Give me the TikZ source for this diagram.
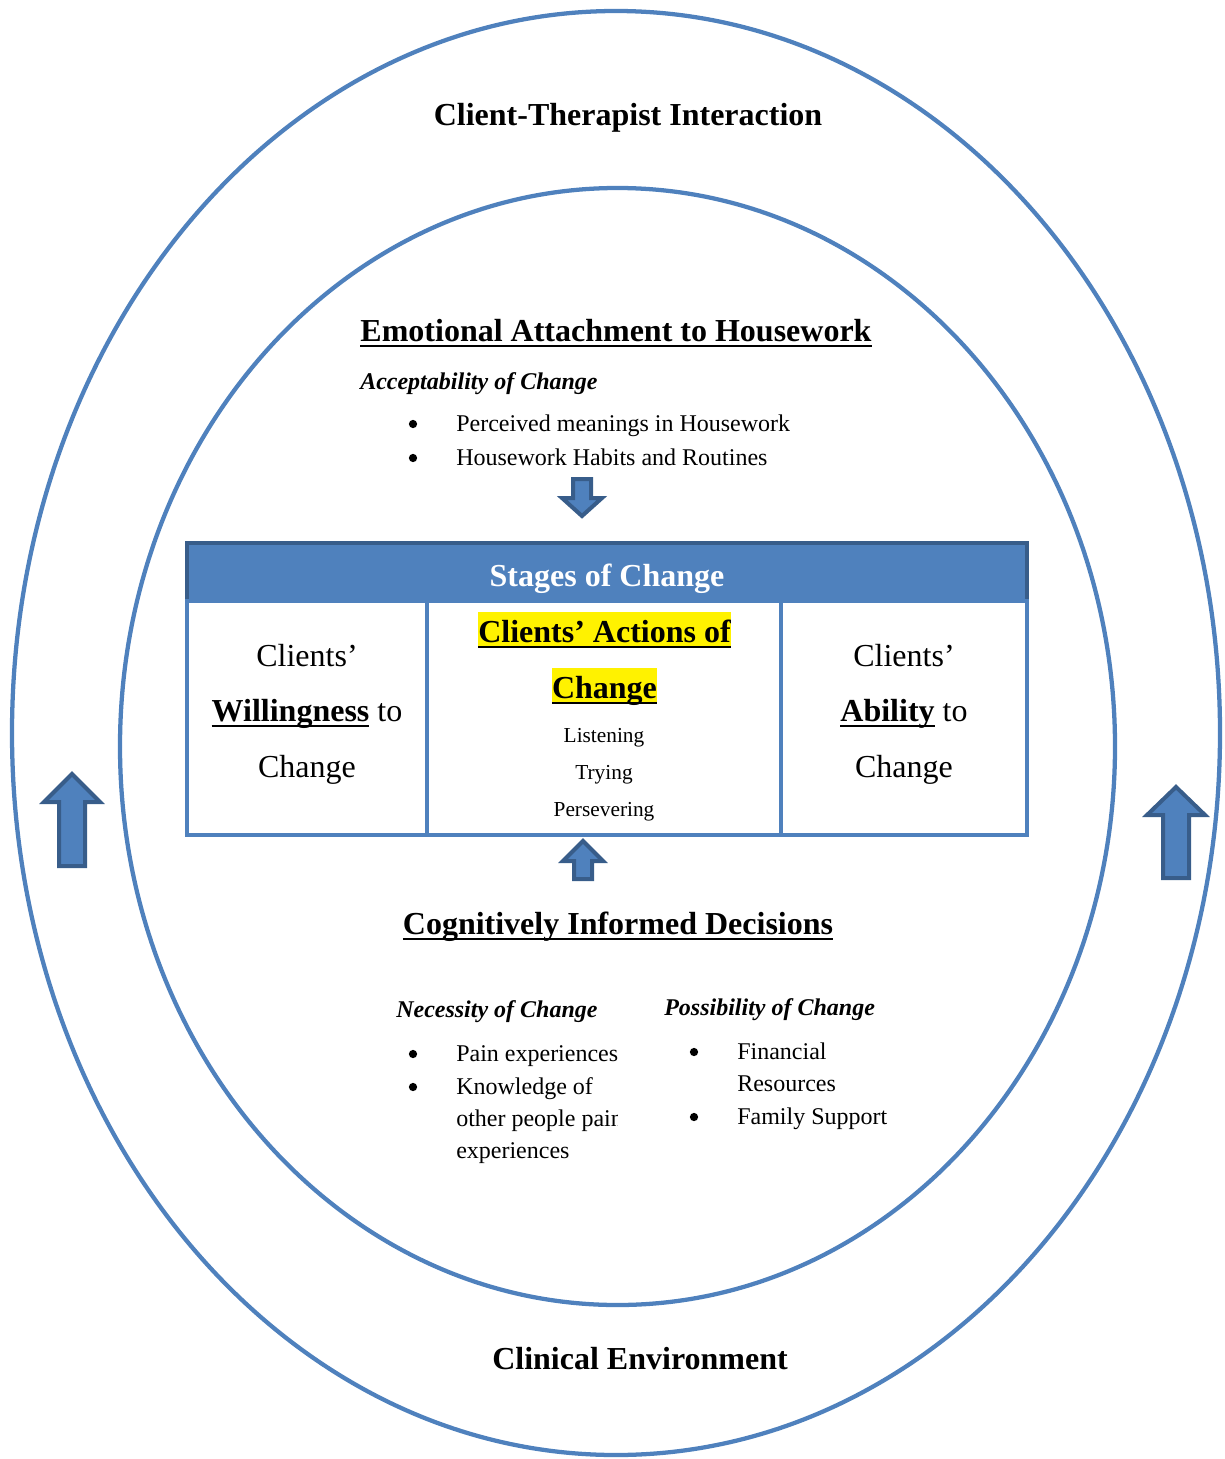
\documentclass[tikz,border=0pt]{standalone}
\usepackage{fontspec}
\setmainfont{Liberation Serif}
\usepackage{tikz}
\definecolor{officeblue}{RGB}{79,129,189}
\definecolor{officedark}{RGB}{56,93,138}
\newsavebox{\ulbox}
\newcommand{\ulword}[1]{\sbox{\ulbox}{#1}\rlap{\rule[-0.2em]{\wd\ulbox}{0.08em}}\usebox{\ulbox}}
% x, tip y, length, half shaft, half head, head length
\newcommand{\fatarrow}[6]{%
  \draw[blockarrow] (#1,#2) -- ++(#5,#6) -- ++({#4-#5},0) -- ++(0,{#3-#6})
    -- ++({-2*#4},0) -- ++(0,{#6-#3}) -- ++({#4-#5},0) -- cycle;}
\tikzset{
  ring/.style={draw=officeblue,line width=3.2pt},
  heading/.style={font=\fontsize{24}{28}\selectfont\bfseries,inner sep=0pt,anchor=base},
  subhead/.style={font=\fontsize{18}{22}\selectfont\bfseries\itshape,inner sep=0pt,anchor=base west},
  item/.style={font=\fontsize{18}{22}\selectfont,inner sep=0pt,anchor=base west},
  dot/.style={circle,fill=black,inner sep=0pt,minimum size=6.2pt},
  cell/.style={font=\fontsize{24}{28}\selectfont,inner sep=0pt,anchor=base},
  stage/.style={font=\fontsize{16}{20}\selectfont,inner sep=0pt,anchor=base},
  hilite/.style={fill=yellow,inner sep=0pt,text height=22.5pt,text depth=4.5pt,
                 font=\fontsize{24}{28}\selectfont\bfseries,anchor=base},
  headbar/.style={fill=officeblue,draw=officedark,line width=3.5pt},
  tableline/.style={draw=officeblue,line width=2.6pt},
  blockarrow/.style={fill=officeblue,draw=officedark,line width=3pt,line join=miter}
}

\begin{document}
\begin{tikzpicture}[x=0.75pt,y=-0.75pt]
  \useasboundingbox (0,0) rectangle (1224,1459);
  % rings
  \draw[ring] (616,733) ellipse [x radius=604, y radius=722];
  \draw[ring] (617.5,746.5) ellipse [x radius=497.5, y radius=558.5];
  \node[heading] (cti) at (628,126) {Client-Therapist Interaction};
  \node[heading] (ce)  at (640,1369) {Clinical Environment};
  % emotional attachment
  \node[heading] (emo) at (616,341) {\ulword{Emotional Attachment to Housework}};
  \node[subhead] (acc) at (360,389) {Acceptability of Change};
  \node[dot]  (b1) at (413,424) {};
  \node[dot]  (b2) at (413,458) {};
  \node[item] (pm) at (456,431) {Perceived meanings in Housework};
  \node[item] (hh) at (456,465) {Housework Habits and Routines};
  \fatarrow{582}{516}{-37}{9}{20}{-18}
  % stages of change table
  \draw[headbar] (187,543) rectangle (1027,601);
  \node[heading,text=white] (soc) at (607,586) {Stages of Change};
  \draw[tableline] (187,601) rectangle (1027,835);
  \draw[tableline] (427,601) -- (427,835);
  \draw[tableline] (781,601) -- (781,835);
  \node[cell] (w1) at (307,666) {Clients'};
  \node[cell] (w2) at (307,721) {\ulword{\textbf{Willingness}} to};
  \node[cell] (w3) at (307,777) {Change};
  \node[hilite] (a1) at (604.5,642) {\ulword{Clients' Actions of}};
  \node[hilite] (a2) at (604.5,698) {\ulword{Change}};
  \node[stage] (s1) at (604,742) {Listening};
  \node[stage] (s2) at (604,779) {Trying};
  \node[stage] (s3) at (604,816) {Persevering};
  \node[cell] (r1) at (904,666) {Clients'};
  \node[cell] (r2) at (904,721) {\ulword{\textbf{Ability}} to};
  \node[cell] (r3) at (904,777) {Change};
  \fatarrow{583}{841}{38}{9}{20}{20}
  % cognitively informed decisions
  \node[heading] (cid) at (618,934) {\ulword{Cognitively Informed Decisions}};
  \node[subhead] (nec) at (396,1017) {Necessity of Change};
  \node[dot]  (n1) at (413,1054) {};
  \node[dot]  (n2) at (413,1087) {};
  \node[item] (pe) at (456,1061) {Pain experiences};
  \node[item] (ko) at (456,1094) {Knowledge of};
  \begin{scope}
    \clip (440,1090) rectangle (617,1140);
    \node[item] (op) at (456,1126) {other people pain};
  \end{scope}
  \node[item] (ex) at (456,1158) {experiences};
  \node[subhead] (pos) at (664,1015) {Possibility of Change};
  \node[dot]  (p1) at (694,1052) {};
  \node[dot]  (p2) at (694,1117) {};
  \node[item] (fi) at (737,1059) {Financial};
  \node[item] (re) at (737,1091) {Resources};
  \node[item] (fs) at (737,1124) {Family Support};
  % side arrows
  \fatarrow{72}{774}{92}{13}{28}{28}
  \fatarrow{1176}{787}{91}{13}{29}{28}
\end{tikzpicture}
\end{document}
